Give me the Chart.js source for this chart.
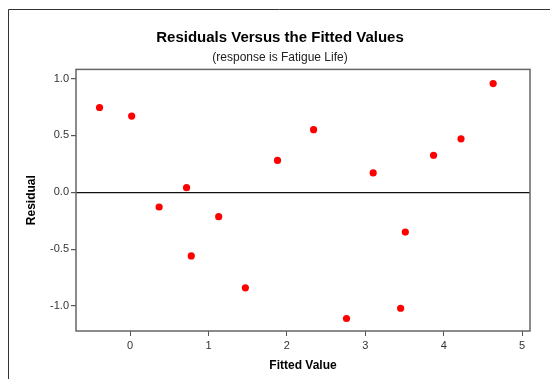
<!DOCTYPE html>
<html>
<head>
<meta charset="utf-8">
<script src="https://cdn.jsdelivr.net/npm/chart.js@4"></script>
<style>
  html, body { margin: 0; padding: 0; background: #fff; }
  #wrap { position: relative; width: 550px; height: 379px; }
</style>
</head>
<body>
<div id="wrap"><canvas id="c" width="550" height="379"></canvas></div>
<script>
// residuals vs fitted values
var FITTED = [-0.39, 0.02, 0.37, 0.72, 0.78, 1.13, 1.47, 1.88, 2.34, 2.76, 3.10, 3.45, 3.51, 3.87, 4.22, 4.63];
var RESID  = [0.745, 0.67, -0.13, 0.04, -0.56, -0.215, -0.84, 0.28, 0.55, -1.11, 0.17, -1.02, -0.35, 0.325, 0.47, 0.955];
var X_TICKS = [0, 1, 2, 3, 4, 5];
var Y_TICKS = [-1.0, -0.5, 0.0, 0.5, 1.0];

var FONT = "'Liberation Sans', Arial, sans-serif";

var points = FITTED.map(function (x, i) { return { x: x, y: RESID[i] }; });

// outer page frame (top + left only) and the plot box
var framePlugin = {
  id: "frame",
  beforeDraw: function (chart) {
    var ctx = chart.ctx;
    ctx.save();
    ctx.strokeStyle = "#333";
    ctx.lineWidth = 1;
    ctx.beginPath();
    ctx.moveTo(8.5, 379);
    ctx.lineTo(8.5, 9.5);
    ctx.lineTo(550, 9.5);
    ctx.stroke();
    ctx.restore();
  },
  afterDatasetsDraw: function (chart) {
    var a = chart.chartArea, ctx = chart.ctx;
    ctx.save();
    ctx.strokeStyle = "#666";
    ctx.lineWidth = 1.5;
    ctx.strokeRect(a.left, a.top, a.right - a.left, a.bottom - a.top);
    ctx.restore();
  }
};

new Chart(document.getElementById("c"), {
  type: "scatter",
  data: {
    datasets: [{
      data: points,
      backgroundColor: "#ff0000",
      borderWidth: 0,
      pointRadius: 3.6,
      pointHoverRadius: 3.6
    }]
  },
  plugins: [framePlugin],
  options: {
    responsive: false,
    animation: false,
    layout: { padding: { left: 30, right: 20, top: 0, bottom: 0 } },
    plugins: {
      legend: { display: false },
      tooltip: { enabled: false },
      title: {
        display: true,
        text: "Residuals Versus the Fitted Values",
        color: "#000",
        font: { family: FONT, size: 15, weight: "bold" },
        padding: { top: 29, bottom: 3 }
      },
      subtitle: {
        display: true,
        text: "(response is Fatigue Life)",
        color: "#222",
        font: { family: FONT, size: 12 },
        padding: { top: 0, bottom: 5 }
      }
    },
    scales: {
      x: {
        type: "linear",
        min: -0.69,
        max: 5.1,
        afterFit: function (s) { s.height = 48; },
        afterBuildTicks: function (s) { s.ticks = X_TICKS.map(function (v) { return { value: v }; }); },
        ticks: {
          color: "#333",
          padding: 3,
          font: { family: FONT, size: 11 },
          callback: function (v) { return String(v); }
        },
        grid: { drawOnChartArea: false, drawTicks: true, tickLength: 5, color: "#555" },
        border: { display: false },
        title: {
          display: true,
          text: "Fitted Value",
          color: "#000",
          font: { family: FONT, size: 12, weight: "bold" },
          padding: { top: 0, bottom: 6 }
        }
      },
      y: {
        type: "linear",
        min: -1.22,
        max: 1.08,
        afterFit: function (s) { s.width = 46; },
        afterBuildTicks: function (s) { s.ticks = Y_TICKS.map(function (v) { return { value: v }; }); },
        ticks: {
          color: "#333",
          padding: 2,
          font: { family: FONT, size: 11 },
          callback: function (v) { return v.toFixed(1); }
        },
        grid: {
          drawOnChartArea: true,
          drawTicks: true,
          tickLength: 5,
          lineWidth: 1.2,
          color: function (c) { return c.tick && c.tick.value === 0 ? "#111" : "rgba(0,0,0,0)"; },
          tickColor: "#555"
        },
        border: { display: false },
        title: {
          display: true,
          text: "Residual",
          color: "#000",
          font: { family: FONT, size: 12, weight: "bold", lineHeight: 0.2 },
          padding: { top: 0, bottom: 0 }
        }
      }
    }
  }
});
</script>
</body>
</html>
